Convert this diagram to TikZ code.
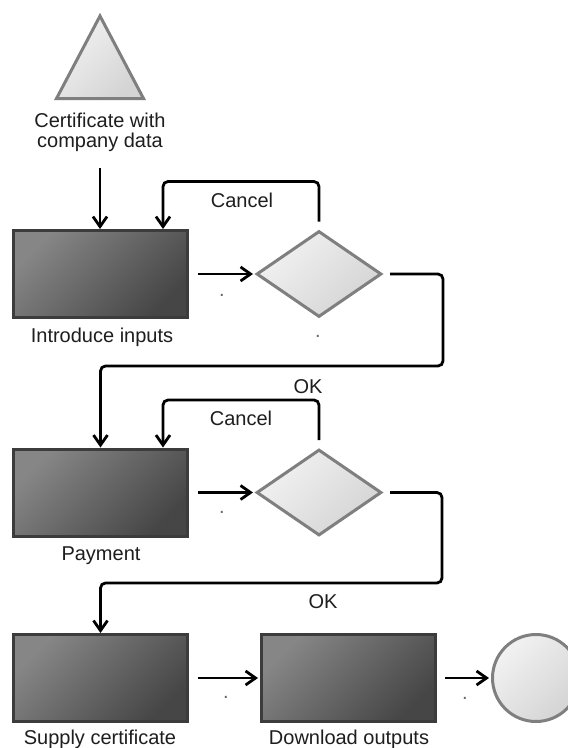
\documentclass[tikz,border=0pt]{standalone}
\usepackage{fontspec}
\setmainfont{Liberation Sans}
\usetikzlibrary{shapes.geometric,arrows.meta}
\definecolor{boxedge}{HTML}{3C3C3C}
\definecolor{boxlight}{HTML}{868686}
\definecolor{boxdark}{HTML}{464646}
\definecolor{shapeedge}{HTML}{7F7F7F}
\definecolor{shapelight}{HTML}{F2F2F2}
\definecolor{shapedark}{HTML}{D4D4D4}
\definecolor{txt}{HTML}{1E1E1E}
\begin{document}
\begin{tikzpicture}[x=1pt,y=-1pt,
  task/.style={rectangle, draw=boxedge, line width=3pt, minimum width=174pt,
    minimum height=87pt, inner sep=0pt, shading=axis, top color=boxlight,
    bottom color=boxdark, shading angle=45},
  gate/.style={diamond, draw=shapeedge, line width=3pt, minimum width=125pt,
    minimum height=86pt, inner sep=0pt, top color=shapelight,
    bottom color=shapedark, shading angle=45},
  finish/.style={circle, draw=shapeedge, line width=3pt, minimum size=87pt,
    inner sep=0pt, top color=shapelight, bottom color=shapedark, shading angle=45},
  lbl/.style={font=\fontsize{20}{20}\selectfont, text=txt, inner sep=0pt, anchor=base},
  dotlbl/.style={lbl, text=black!60},
  conn/.style={line width=2.8pt, rounded corners=5pt,
    -{Straight Barb[length=10pt,width=14pt]}}
]
\useasboundingbox (0,0) rectangle (568,748);
\fill[white] (0,0) rectangle (568,748);

% start event
\draw[draw=shapeedge, line width=3pt, top color=shapelight, bottom color=shapedark,
  shading angle=45] (100,16) -- (143.5,98.5) -- (56.5,98.5) -- cycle;
\node[lbl, align=center] (cert) at (100,147) {Certificate with\\company data};
\coordinate (certout) at (100,168);

% activities
\node[task] (inputs)   at (100.5,274) {};
\node[task] (payment)  at (100.5,492.5) {};
\node[task] (supply)   at (100.5,678) {};
\node[task] (download) at (348.5,678) {};

% decisions
\node[gate] (dec1) at (319,274) {};
\node[gate] (dec2) at (319,492.5) {};

% end event
\node[finish] (stop) at (536,678) {};

% activity names
\node[lbl] (linputs)   at (102,342) {Introduce inputs};
\node[lbl] (lpayment)  at (101,560) {Payment};
\node[lbl] (lsupply)   at (100,744) {Supply certificate};
\node[lbl] (ldownload) at (349,744) {Download outputs};

% flow labels
\node[lbl] (cancel1) at (242,207) {Cancel};
\node[lbl] (ok1)     at (308,393) {OK};
\node[lbl] (cancel2) at (241,425) {Cancel};
\node[lbl] (ok2)     at (323,608) {OK};
\node[dotlbl] (d1) at (222,296.5) {.};
\node[dotlbl] (d2) at (318,337.5) {.};
\node[dotlbl] (d3) at (222,513.5) {.};
\node[dotlbl] (d4) at (226,698.5) {.};
\node[dotlbl] (d5) at (465,699.5) {.};

% sequence flows
\draw[conn] (certout) -- (certout |- inputs.north);
\draw[conn] ([xshift=9pt]inputs.east) -- ([xshift=-2pt]dec1.west);
\draw[conn] ([yshift=8pt]dec1.north) -- ++(0,-40) -| ([xshift=62.5pt]inputs.north);
\draw[conn] ([xshift=7pt]dec1.east) -| (443,366) -| (payment.north);
\draw[conn] ([xshift=9pt]payment.east) -- ([xshift=-2pt]dec2.west);
\draw[conn] ([yshift=8pt]dec2.north) -- ++(0,-40) -| ([xshift=62.5pt]payment.north);
\draw[conn] ([xshift=7pt]dec2.east) -| (442,583) -| (supply.north);
\draw[conn] ([xshift=9pt]supply.east) -- ([xshift=-2pt]download.west);
\draw[conn] ([xshift=8pt]download.east) -- ([xshift=-2pt]stop.west);
\end{tikzpicture}
\end{document}
